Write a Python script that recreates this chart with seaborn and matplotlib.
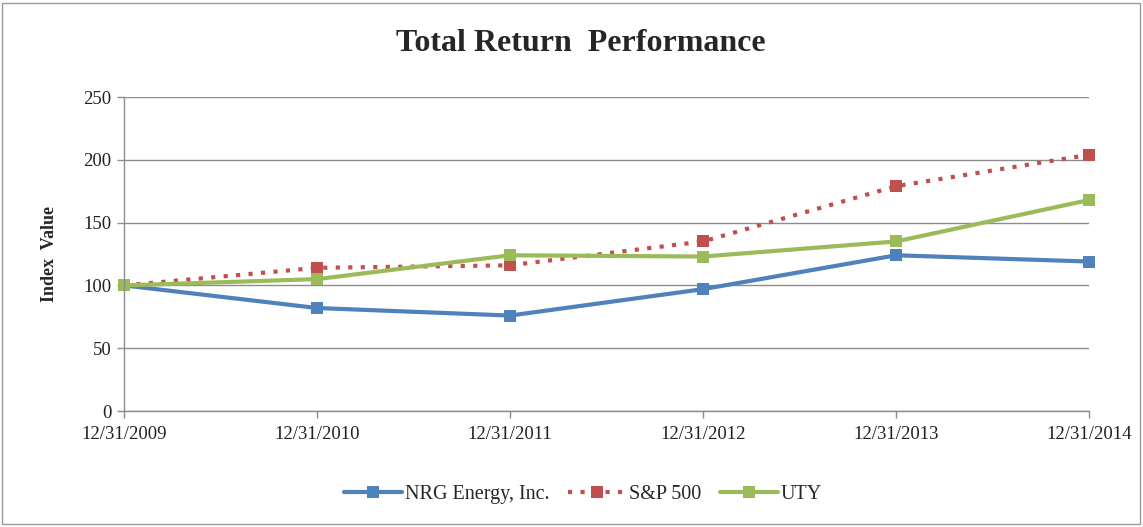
import matplotlib
matplotlib.use("Agg")
import matplotlib.pyplot as plt
import seaborn as sns
import pandas as pd
from matplotlib.patches import Rectangle

dates = ["12/31/2009", "12/31/2010", "12/31/2011", "12/31/2012", "12/31/2013", "12/31/2014"]
nrg = [100, 82, 76, 97, 124, 119]
sp500 = [100, 114, 116, 135, 179, 204]
uty = [100, 105, 124, 123, 135, 168]

series = ["NRG Energy, Inc.", "S&P 500", "UTY"]
colors = {"NRG Energy, Inc.": "#4F81BD", "S&P 500": "#C0504D", "UTY": "#9BBB59"}
styles = {"NRG Energy, Inc.": "-", "S&P 500": (0, (1, 2)), "UTY": "-"}

df = pd.DataFrame({"date": dates * 3,
                   "pos": list(range(len(dates))) * 3,
                   "value": nrg + sp500 + uty,
                   "series": [s for s in series for _ in dates]})

sns.set_theme(style="white")
plt.rcParams["font.family"] = ["Liberation Serif", "DejaVu Serif"]

fig = plt.figure(figsize=(11.43, 5.27), dpi=100)
ax = fig.add_axes([0.1085, 0.2201, 0.8443, 0.5958])

for s in series:
    sub = df[df["series"] == s]
    sns.lineplot(data=sub, x="pos", y="value", ax=ax, color=colors[s],
                 linestyle=styles[s], linewidth=3, marker="s", markersize=8,
                 markeredgewidth=0, label=s, clip_on=False)

ax.set_xlim(0, len(dates) - 1)
ax.set_ylim(0, 250)
ax.set_yticks([0, 50, 100, 150, 200, 250])
ax.set_xticks(range(len(dates)))
ax.set_xticklabels(dates)
ax.grid(axis="y", color="#8c8c8c", linewidth=1)
ax.set_axisbelow(True)
for sp in ["top", "right"]:
    ax.spines[sp].set_visible(False)
for sp in ["left", "bottom"]:
    ax.spines[sp].set_color("#8c8c8c")
    ax.spines[sp].set_linewidth(1)
ax.tick_params(axis="both", which="both", direction="out", length=5, width=1,
               color="#8c8c8c", labelsize=13.5, labelcolor="#222222", pad=4)
ax.tick_params(axis="x", pad=6)
ax.tick_params(axis="y", left=True)
ax.tick_params(axis="x", bottom=True)
ax.set_xlabel("")
ax.set_ylabel("Index  Value", fontsize=13, fontweight="bold", labelpad=18)

fig.suptitle("Total Return  Performance", x=0.508, y=0.945, fontsize=23,
             fontweight="bold")

ax.legend(loc="center", bbox_to_anchor=(0.4756, -0.267), ncol=3, frameon=False,
          fontsize=14.5, handlelength=2.9, columnspacing=0.9, handletextpad=0.15)

fig.patches.append(Rectangle((0.002, 0.005), 0.995, 0.99, transform=fig.transFigure,
                             fill=False, edgecolor="#9a9a9a", linewidth=1))

fig.savefig("out.png", dpi=100)
